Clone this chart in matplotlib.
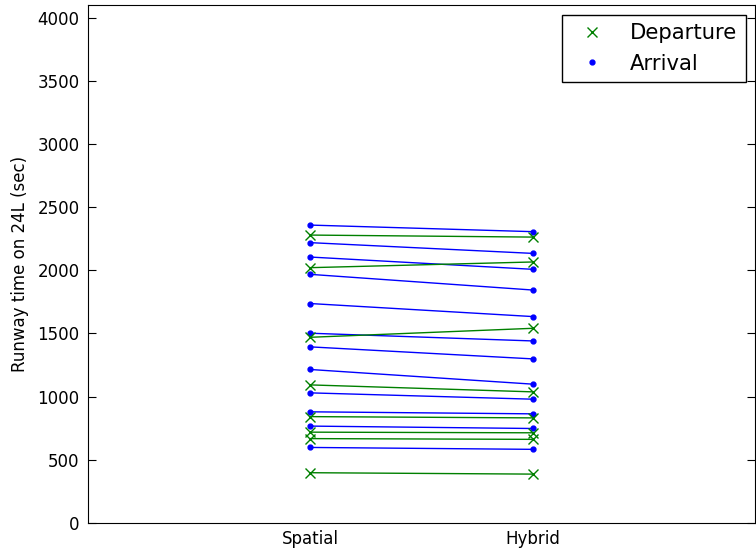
import matplotlib
matplotlib.use('Agg')
import matplotlib.pyplot as plt
from matplotlib.lines import Line2D

# Runway time on 24L (sec)
dep_spatial = [2279, 2021, 1470, 1093, 842, 719, 668, 398]
dep_hybrid = [2263, 2066, 1541, 1038, 832, 714, 662, 387]
arr_spatial = [2358, 2219, 2105, 1968, 1737, 1502, 1394, 1215, 1030, 880, 767, 598]
arr_hybrid = [2306, 2134, 2008, 1844, 1634, 1441, 1299, 1099, 980, 864, 748, 583]
methods = ['Spatial', 'Hybrid']

fig = plt.figure(figsize=(7.56, 5.54), dpi=100)
ax = fig.add_axes([88 / 756, 31 / 554, 667 / 756, 518 / 554])

xs = [1, 2]
for s, h in zip(arr_spatial, arr_hybrid):
    ax.plot(xs, [s, h], color='b', lw=1.0, marker='.', markersize=7)
for s, h in zip(dep_spatial, dep_hybrid):
    ax.plot(xs, [s, h], color='g', lw=1.0, marker='x', markersize=7, mew=1.0)

ax.set_xlim(0, 3)
ax.set_ylim(0, 4100)
ax.set_xticks(xs)
ax.set_xticklabels(methods)
ax.set_yticks(range(0, 4001, 500))
ax.tick_params(axis='y', direction='in', right=True, labelsize=12, length=6, pad=6)
ax.tick_params(axis='x', length=0, labelsize=12, pad=5)
ax.set_ylabel('Runway time on 24L (sec)', fontsize=12, labelpad=6)

handles = [Line2D([], [], color='g', marker='x', linestyle='none', markersize=7),
           Line2D([], [], color='b', marker='.', linestyle='none', markersize=7)]
leg = ax.legend(handles, ['Departure', 'Arrival'], loc='upper right', numpoints=1,
                fontsize=15.2, fancybox=False, framealpha=1, borderaxespad=0.45)
leg.get_frame().set_edgecolor('black')
leg.get_frame().set_linewidth(1.0)

fig.savefig('out.png', dpi=100)
